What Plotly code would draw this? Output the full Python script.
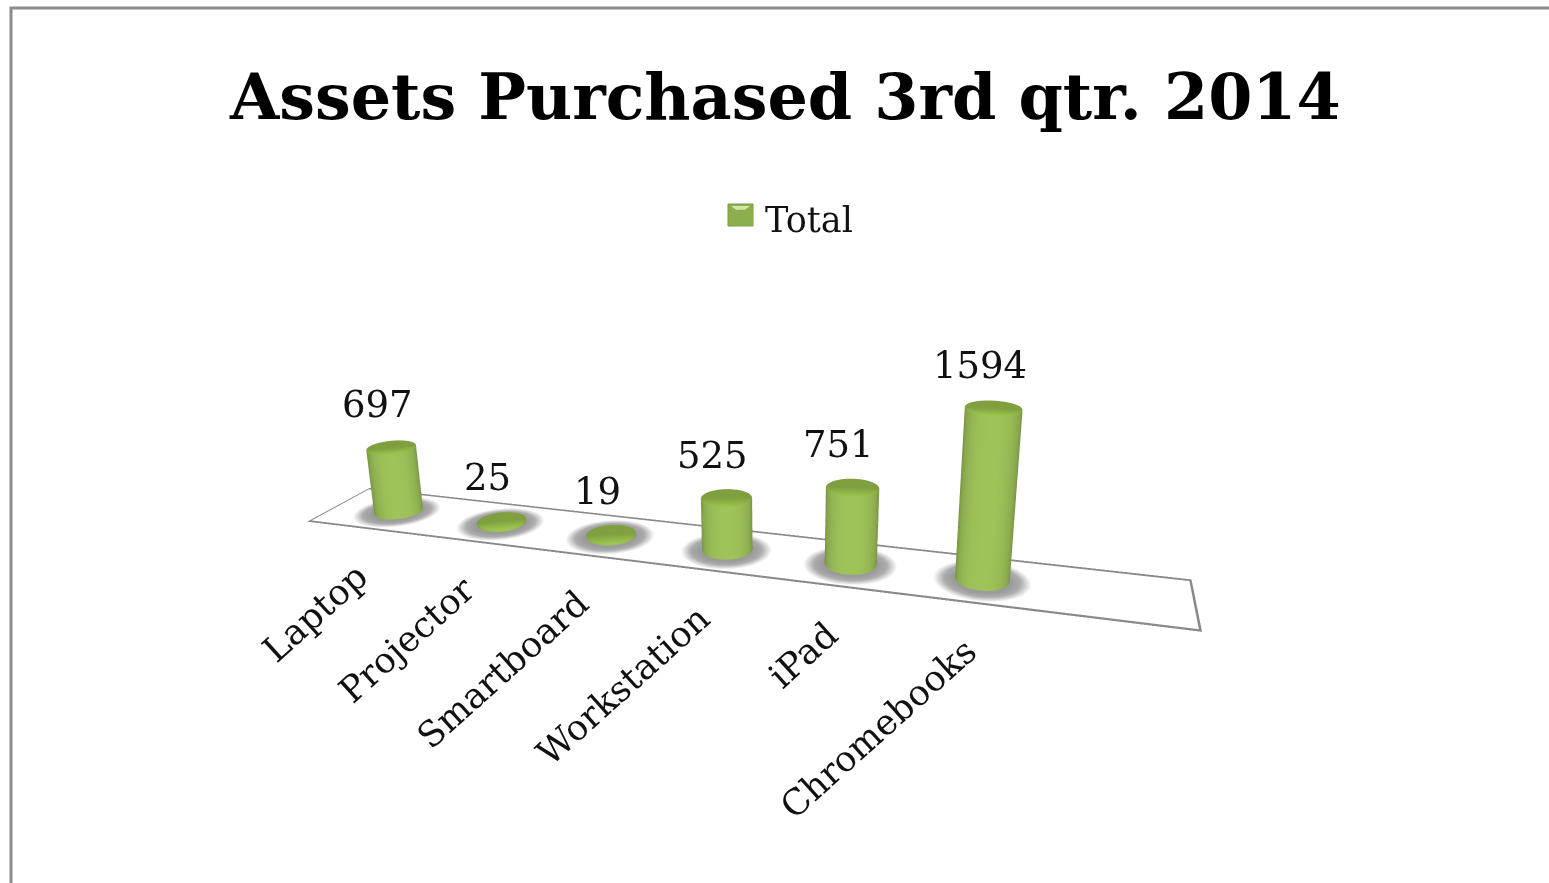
import numpy as np
import plotly.graph_objects as go

categories = ["Laptop", "Projector", "Smartboard", "Workstation", "iPad", "Chromebooks"]
values = [697, 25, 19, 525, 751, 1594]
series_name = "Total"
chart_title = "Assets Purchased 3rd qtr. 2014"

SERIF = "DejaVu Serif"
R = 0.2
N = 64
X0, X1, Y0, Y1 = -0.6, 6.5, -0.425, 0.425
ZMAX = 1800
CENTER = dict(x=0.176, y=0, z=0.075)
EYE = dict(x=CENTER["x"] + 0.842, y=-2.954, z=CENTER["z"] + 0.998)

fig = go.Figure()
XUNIT = 0.4


def cylinder(cx, h):
    t = np.linspace(0, 2 * np.pi, N, endpoint=False)
    cx_ring = cx + R * np.cos(t)
    cy_ring = R * np.sin(t)
    xs = np.concatenate([cx_ring, cx_ring, cx_ring, [cx]])
    ys = np.concatenate([cy_ring, cy_ring, cy_ring, [0]])
    zs = np.concatenate([np.zeros(N), np.full(N, h), np.full(N, h), [h]])
    i, j, k = [], [], []
    for a in range(N):
        b = (a + 1) % N
        i += [a, b]; j += [b, b + N]; k += [a + N, a + N]
        i += [2 * N + a]; j += [2 * N + b]; k += [3 * N]
    view = np.array([EYE["x"] - (cx - (X0 + X1) / 2) * XUNIT, EYE["y"]])
    view = view / np.hypot(*view)
    dot = np.clip(np.cos(t) * view[0] + np.sin(t) * view[1], 0, 1)
    base = np.array([0xA0, 0xC4, 0x5A])
    side = ["rgb(%d,%d,%d)" % tuple((base * (0.62 + 0.38 * d ** 0.6)).astype(int)) for d in dot]
    rim = ["rgb(%d,%d,%d)" % tuple((np.array([0x80, 0xA0, 0x40]) * (1 + 0.25 * d)).astype(int)) for d in dot]
    cols = side + side + rim + ["rgb(128,160,64)"]
    return xs, ys, zs, i, j, k, cols


def shadow(cx):
    t = np.linspace(0, 2 * np.pi, N, endpoint=False)
    rs = [R * 1.05, R * 1.4, R * 1.8]
    grays = ["rgb(155,155,155)", "rgb(172,172,172)", "rgb(255,255,255)"]
    xs, ys, cols = [], [], []
    for r, g in zip(rs, grays):
        xs += list(cx + r * np.cos(t)); ys += list(r * np.sin(t) - 0.02); cols += [g] * N
    xs.append(cx); ys.append(-0.02); cols.append(grays[0])
    i, j, k = [], [], []
    for ring in range(2):
        for a in range(N):
            b = (a + 1) % N
            p = ring * N
            i += [p + a, p + b]; j += [p + b, p + N + b]; k += [p + N + a, p + N + a]
    for a in range(N):
        i.append(3 * N); j.append(a); k.append((a + 1) % N)
    return xs, ys, [0.002 * ZMAX] * len(xs), i, j, k, cols


def floor_border(dx=0.018, dy=0.035):
    xs = [X0, X1, X1, X0, X0 + dx, X1 - dx, X1 - dx, X0 + dx]
    ys = [Y0, Y0, Y1, Y1, Y0 + dy, Y0 + dy, Y1 - dy, Y1 - dy]
    i, j, k = [], [], []
    for a in range(4):
        b = (a + 1) % 4
        i += [a, b]; j += [b, b + 4]; k += [a + 4, a + 4]
    return xs, ys, [0.001 * ZMAX] * 8, i, j, k


FLAT = dict(ambient=1, diffuse=0, specular=0)
fig.add_trace(go.Mesh3d(x=[X0, X1, X1, X0], y=[Y0, Y0, Y1, Y1], z=[0, 0, 0, 0], i=[0, 0], j=[1, 2], k=[2, 3],
                        color="white", flatshading=True, lighting=FLAT, hoverinfo="skip", showlegend=False))
xs, ys, zs, i, j, k = floor_border()
fig.add_trace(go.Mesh3d(x=xs, y=ys, z=zs, i=i, j=j, k=k, color="#8a8a8a", flatshading=True, lighting=FLAT,
                        hoverinfo="skip", showlegend=False))

for n, v in enumerate(values):
    xs, ys, zs, i, j, k, cols = shadow(n)
    fig.add_trace(go.Mesh3d(x=xs, y=ys, z=zs, i=i, j=j, k=k, vertexcolor=cols, lighting=FLAT,
                            hoverinfo="skip", showlegend=False))
    xs, ys, zs, i, j, k, cols = cylinder(n, v)
    fig.add_trace(go.Mesh3d(x=xs, y=ys, z=zs, i=i, j=j, k=k, vertexcolor=cols, lighting=FLAT,
                            name=series_name, showlegend=False, legendgroup="t"))

fig.add_trace(go.Scatter3d(x=[None], y=[None], z=[None], mode="markers", name=series_name, showlegend=True,
                           marker=dict(symbol="square", size=16, color="#8DAE4C")))

annos = []
for n, (c, v) in enumerate(zip(categories, values)):
    annos.append(dict(x=n, y=0, z=v, text=str(v), showarrow=False, ay=0, ax=0, xshift=-14, yshift=43,
                      font=dict(family=SERIF, size=37, color="#111111")))
    annos.append(dict(x=n, y=Y0, z=0, text=c, showarrow=False, textangle=-42, xanchor="right", yanchor="top",
                      ax=0, ay=0, xshift=10, yshift=-23, font=dict(family=SERIF, size=35.5, color="#111111")))

axis = dict(visible=False, showgrid=False, zeroline=False, showbackground=False, showspikes=False)
W, H = 1549, 883
fig.update_layout(
    width=W, height=H, margin=dict(l=0, r=0, t=0, b=0), paper_bgcolor="white", showlegend=True,
    title=dict(text="<b>%s</b>" % chart_title, x=0.507, xanchor="center", y=0.89, yanchor="middle",
               font=dict(family=SERIF, size=63.5, color="black")),
    legend=dict(x=0.511, y=0.753, xanchor="center", yanchor="middle", bgcolor="rgba(0,0,0,0)",
                font=dict(family=SERIF, size=35, color="#111111")),
    scene=dict(
        domain=dict(x=[0, 1], y=[0, 1]),
        xaxis=dict(range=[X0, X1], **axis), yaxis=dict(range=[Y0, Y1], **axis), zaxis=dict(range=[0, ZMAX], **axis),
        aspectmode="manual", aspectratio=dict(x=XUNIT * (X1 - X0), y=0.34, z=0.6),
        camera=dict(eye=EYE, center=CENTER, up=dict(x=0, y=0, z=1)),
        annotations=annos,
    ),
    shapes=[
        dict(type="rect", xref="paper", yref="paper", x0=11 / W, x1=1.1, y0=-0.1, y1=1 - 8 / H,
             line=dict(color="#8c8c8c", width=3), fillcolor="rgba(0,0,0,0)"),
        dict(type="rect", xref="paper", yref="paper", x0=728 / W, x1=753 / W, y0=1 - 226 / H, y1=1 - 204 / H,
             line=dict(color="#7a9a3e", width=1), fillcolor="#8DAE4C", layer="above"),
        dict(type="path", xref="paper", yref="paper",
             path="M %f %f L %f %f L %f %f Z" % (731 / W, 1 - 206 / H, 750 / W, 1 - 206 / H, 740.5 / W, 1 - 213 / H),
             line=dict(width=0), fillcolor="#D6E6A8", layer="above"),
    ],
)
fig.write_html("out.html", config=dict(displayModeBar=False),
               post_script="document.body.style.margin='0';document.body.style.overflow='hidden';")
